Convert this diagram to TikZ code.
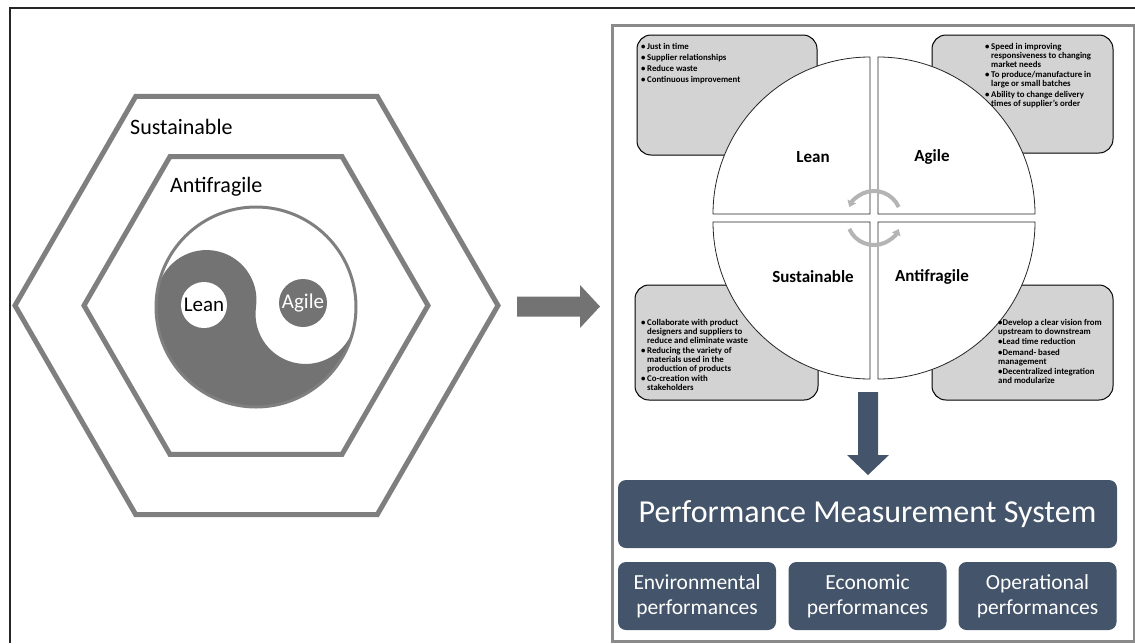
\documentclass[tikz,border=0pt]{standalone}
\usepackage{fontspec}
\setmainfont{Carlito}
\usepackage{xcolor}
\usetikzlibrary{arrows.meta,positioning,shapes.geometric}

\definecolor{hexgray}{HTML}{7F7F7F}
\definecolor{yydark}{HTML}{737373}
\definecolor{notegray}{HTML}{D3D3D3}
\definecolor{slate}{HTML}{44546A}
\definecolor{loopgray}{HTML}{B4B4B4}
\definecolor{framegray}{HTML}{8A8A8A}

\newcommand{\bul}{\makebox[6pt][l]{\textbullet}}
\newcommand{\itc}{\hspace*{6pt}}

\begin{document}
\begin{tikzpicture}[x=1pt,y=-1pt,
  hex/.style={draw=hexgray,line width=5pt,regular polygon,regular polygon sides=6,inner sep=0pt},
  word/.style={font=\fontsize{22}{24}\selectfont,anchor=west,inner sep=0pt},
  dot/.style={circle,inner sep=0pt,font=\fontsize{21}{24}\selectfont},
  note/.style={draw=black,line width=1pt,fill=notegray,rounded corners=14pt},
  notetext/.style={anchor=north west,inner sep=0pt,align=left,font=\bfseries\fontsize{8.8}{9}\selectfont},
  quad/.style={draw=black!85,line width=0.8pt,fill=white},
  qlabel/.style={font=\bfseries\fontsize{17}{20}\selectfont},
  loop/.style={loopgray,line width=4pt,-{Triangle[length=6pt,width=9pt]}},
  pms/.style={fill=slate,rounded corners=8pt,text=white,inner sep=0pt,minimum height=68pt},
  perf/.style={pms,minimum width=158pt,align=center,font=\fontsize{21.5}{25}\selectfont}]
 \useasboundingbox (0,0) rectangle (1135,643);
 \draw[line width=1.8pt,black!85] (10,643) -- (10,8) -- (1135,8);

 % nested hexagons with the yin-yang
 \node[hex,minimum size=483pt] (outerhex) at (256.5,305.5) {};
 \node[hex,minimum size=344pt] (innerhex) at (256,305.5) {};
 \node[word] (sust) at (130,127) {Sustainable};
 \node[word] (anti) at (170,187) {Antifragile};
 \fill[yydark] (256,307) ++(188:100) arc[start angle=188,end angle=8,radius=100]
   arc[start angle=8,end angle=188,radius=50] arc[start angle=8,end angle=-172,radius=50] -- cycle;
 \draw[hexgray,line width=3pt] (256,307) circle[radius=100];
 \node[dot,fill=white,minimum size=46pt] (lean) at (204,305) {Lean};
 \node[dot,fill=yydark,text=white,minimum size=48pt] (agile) at (303,303) {Agile};

 \fill[yydark] (517,296.5) -- (580,296.5) -- (580,285) -- (600,306.5) -- (580,328) -- (580,316.5) -- (517,316.5) -- cycle;

 % right panel
 \draw[framegray,line width=3pt] (612,25) rectangle (1134,641);
 \draw[note] (637,35) rectangle (817,155);
 \draw[note] (932,35) rectangle (1113,153);
 \draw[note] (635,285) rectangle (818,400);
 \draw[note] (932,285) rectangle (1113,400);
 \draw[quad] (870,214) -- ++(-157,0) arc[start angle=180,end angle=270,radius=157] -- cycle;
 \draw[quad] (878,214) -- ++(0,-157) arc[start angle=270,end angle=360,radius=157] -- cycle;
 \draw[quad] (878,222) -- ++(157,0) arc[start angle=0,end angle=90,radius=157] -- cycle;
 \draw[quad] (870,222) -- ++(0,157) arc[start angle=90,end angle=180,radius=157] -- cycle;
 \draw[loop] (874,218) ++(-24:27) arc[start angle=-24,end angle=-156,radius=27];
 \draw[loop] (874,218) ++(156:27) arc[start angle=156,end angle=24,radius=27];
 \node[qlabel] (qlean) at (813,157) {Lean};
 \node[qlabel] (qagile) at (932,157) {Agile};
 \node[qlabel] (qsust) at (813,277) {Sustainable};
 \node[qlabel] (qanti) at (932,277) {Antifragile};

 \node[notetext] (leantxt) at (641,43) {\bul Just in time\\[2pt]\bul Supplier relationships\\[2pt]\bul Reduce waste\\[2pt]\bul Continuous improvement};
 \node[notetext] (agiletxt) at (985,43) {\bul Speed in improving\\\itc responsiveness to changing\\\itc market needs\\[1.5pt]\bul To produce/manufacture in\\\itc large or small batches\\[1.5pt]\bul Ability to change delivery\\\itc times of supplier’s order};
 \node[notetext] (susttxt) at (641,319) {\bul Collaborate with product\\\itc designers and suppliers to\\\itc reduce and eliminate waste\\[1pt]\bul Reducing the variety of\\\itc materials used in the\\\itc production of products\\[1pt]\bul Co-creation with\\\itc stakeholders};
 \node[notetext] (antitxt) at (998,319) {\textbullet Develop a clear vision from\\ upstream to downstream\\[1.5pt]\textbullet Lead time reduction\\[1.5pt]\textbullet Demand- based\\management\\[1.5pt]\textbullet Decentralized integration\\and modularize};

 \fill[slate] (858,392) -- (878,392) -- (878,455) -- (889,455) -- (868,475) -- (847,455) -- (858,455) -- cycle;

 \node[pms,minimum width=499pt,font=\fontsize{32}{36}\selectfont] (pmsys) at (867.5,514) {Performance Measurement System};
 \node[perf] (env) at (697,596) {Environmental\\performances};
 \node[perf] (eco) at (867.5,596) {Economic\\performances};
 \node[perf] (ope) at (1037.5,596) {Operational\\performances};
\end{tikzpicture}
\end{document}
